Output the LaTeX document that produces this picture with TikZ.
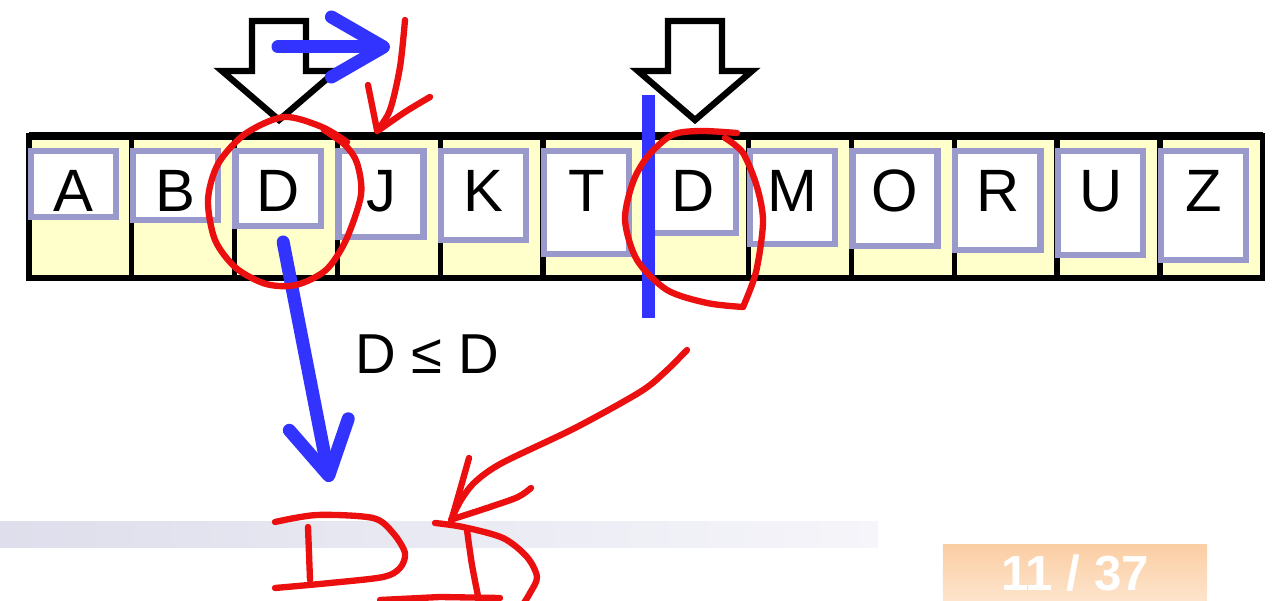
\documentclass[tikz,border=0pt]{standalone}
\usepackage{fontspec}
\setmainfont{Liberation Sans}
\definecolor{CellYellow}{RGB}{255,255,204}
\definecolor{TileLavender}{RGB}{153,153,204}
\definecolor{BlueInk}{RGB}{51,51,255}
\definecolor{RedInk}{RGB}{235,15,15}
\definecolor{BarLeft}{RGB}{222,222,236}
\definecolor{BarRight}{RGB}{245,245,250}
\definecolor{PageTop}{RGB}{251,206,164}
\definecolor{PageBottom}{RGB}{253,228,204}
\usetikzlibrary{arrows.meta,positioning}

\begin{document}
\begin{tikzpicture}[x=0.01cm,y=-0.01cm,
  cell/.style={draw=black,line width=1.5pt,fill=CellYellow,minimum width=1.0275cm,minimum height=1.42cm,inner sep=0pt,outer sep=0pt},
  tile/.style={draw=TileLavender,line width=1.8pt,fill=white,anchor=north west,minimum width=0.85cm,inner sep=0pt,outer sep=0pt,text height=0.6cm,font=\fontsize{17}{20}\selectfont},
  hollow/.style={draw=black,line width=1.8pt,fill=white},
  bluepen/.style={draw=BlueInk,line width=3.7pt,line cap=round,line join=round},
  redpen/.style={draw=RedInk,line width=1.8pt,line cap=round,line join=round},
  barb/.style={-{Straight Barb[length=0.52cm,width=0.6cm,round]}}]
  \useasboundingbox (0,0) rectangle (1280,601);

  % footer of the slide
  \fill[left color=BarLeft,right color=BarRight] (0,522) rectangle (878,548);
  \node[top color=PageTop,bottom color=PageBottom,minimum width=2.64cm,minimum height=0.56cm,inner sep=0pt,text=white,font=\fontsize{14}{16}\selectfont\bfseries] (page) at (1075,573) {11 / 37};

  % the sorted array
  \node[cell,anchor=north west] (c1) at (29,136) {};
  \node[cell,right=0pt of c1] (c2) {};
  \node[cell,right=0pt of c2] (c3) {};
  \node[cell,right=0pt of c3] (c4) {};
  \node[cell,right=0pt of c4] (c5) {};
  \node[cell,right=0pt of c5] (c6) {};
  \node[cell,right=0pt of c6] (c7) {};
  \node[cell,right=0pt of c7] (c8) {};
  \node[cell,right=0pt of c8] (c9) {};
  \node[cell,right=0pt of c9] (c10) {};
  \node[cell,right=0pt of c10] (c11) {};
  \node[cell,right=0pt of c11] (c12) {};
  \draw[line width=2.4pt] (c1.north west) -- (c12.north east);

  \node[tile,text depth=0.06cm] (t1) at ([shift={(2,15)}]c1.north west) {A};
  \node[tile,text depth=0.09cm] (t2) at ([shift={(1,15)}]c2.north west) {B};
  \node[tile,text depth=0.15cm] (t3) at ([shift={(1,15)}]c3.north west) {D};
  \node[tile,text depth=0.26cm] (t4) at ([shift={(1,15)}]c4.north west) {J};
  \node[tile,text depth=0.29cm] (t5) at ([shift={(1,15)}]c5.north west) {K};
  \node[tile,text depth=0.43cm] (t6) at ([shift={(1,15)}]c6.north west) {T};
  \node[tile,text depth=0.22cm] (t7) at ([shift={(5,15)}]c7.north west) {D};
  \node[tile,text depth=0.33cm] (t8) at ([shift={(1,15)}]c8.north west) {M};
  \node[tile,text depth=0.35cm] (t9) at ([shift={(1,15)}]c9.north west) {O};
  \node[tile,text depth=0.39cm] (t10) at ([shift={(1,15)}]c10.north west) {R};
  \node[tile,text depth=0.44cm] (t11) at ([shift={(1,15)}]c11.north west) {U};
  \node[tile,text depth=0.49cm] (t12) at ([shift={(1,15)}]c12.north west) {Z};

  % hollow pointers
  \draw[hollow] (279,120) -- ++(-57,-49) -- ++(30,0) -- ++(0,-50) -- ++(54,0) -- ++(0,50) -- ++(30,0) -- cycle;
  \draw[hollow] (695,120) -- ++(-57,-49) -- ++(30,0) -- ++(0,-50) -- ++(54,0) -- ++(0,50) -- ++(30,0) -- cycle;

  % blue ink
  \coordinate (scanfrom) at (278,47);
  \coordinate (scanto) at (390,47);
  \coordinate (dleft) at (330,482);
  \draw[bluepen,barb] (scanfrom) -- (scanto);
  \draw[bluepen,line cap=butt] (648,95) -- (648,318);
  \draw[bluepen,barb] ([shift={(5,16)}]t3.south) -- (dleft);
  \node[font=\fontsize{16}{19}\selectfont,anchor=base] (cmp) at (427,374) {D ≤ D};

  % red ink
  \draw[redpen] plot[smooth] coordinates {(347,142) (322,127) (284,117) (245,134) (218,164) (208,200) (215,240) (236,268) (266,284) (296,285) (326,270) (346,240) (361,195) (357,163) (345,145) (324,130)};
  \draw[redpen] plot[smooth] coordinates {(405,20) (400,67) (390,110) (377,131)};
  \draw[redpen] (368,85) -- (377,130);
  \draw[redpen] plot[smooth] coordinates {(430,97) (405,112) (379,130)};
  \draw[redpen] plot[smooth] coordinates {(737,133) (700,131) (672,135) (648,156) (633,182) (625,220) (637,260) (667,290) (707,303) (743,307)};
  \draw[redpen] plot[smooth] coordinates {(743,307) (756,272) (763,222) (757,187) (743,153) (725,138)};
  \draw[redpen] plot[smooth] coordinates {(687,350) (665,372) (640,392) (575,428) (502,463) (475,482) (461,500) (451,520)};
  \draw[redpen] plot[smooth] coordinates {(469,458) (460,490) (452,518)};
  \draw[redpen] plot[smooth] coordinates {(531,488) (518,497) (490,507) (453,519)};
  % hand written D D
  \draw[redpen] plot[smooth] coordinates {(275,522) (317,515) (373,518) (393,533) (405,553) (400,568) (383,577) (330,583) (275,588)};
  \draw[redpen] (308,527) -- (310,580);
  \draw[redpen] plot[smooth] coordinates {(435,523) (463,527) (503,538) (527,557) (537,577) (530,593) (522,606)};
  \draw[redpen] plot[smooth] coordinates {(467,530) (472,565) (480,606)};
  \draw[redpen] (380,600) -- (440,597) -- (500,598);
\end{tikzpicture}
\end{document}
